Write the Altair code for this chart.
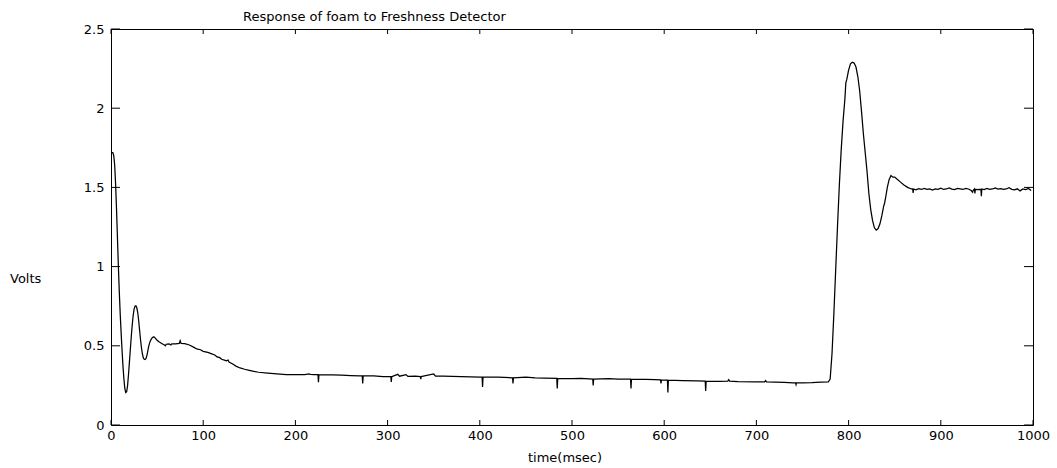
import altair as alt
import pandas as pd

# ---- data ----
# main trace, 0 .. 864 msec
main_t = [
    0, 2, 3, 4, 5, 6, 7, 8, 9, 10, 11, 12, 13, 14, 15, 16, 17, 18, 19, 20,
    21, 22, 23, 24, 25, 26, 27, 28, 29, 30, 31, 32, 33, 34, 35, 36, 37, 38, 39, 40,
    41, 42, 43, 44, 45, 46, 47, 48, 50, 52, 55, 58, 59, 60, 63, 65, 66, 70, 74, 75,
    76, 80, 85, 90, 93, 97, 100, 105, 110, 113, 115, 118, 120, 123, 125, 127, 128, 132, 136, 140,
    145, 150, 155, 160, 170, 180, 190, 200, 210, 215, 216, 220, 224.5, 225, 225.5, 240, 250, 260, 270, 272.5,
    273, 273.5, 285, 295, 303.5, 304, 304.5, 311, 313, 320, 322, 330, 335.5, 336, 336.5, 340, 350, 352, 360, 380,
    400, 402.5, 403, 403.5, 420, 435.5, 436, 436.5, 450, 460, 470, 483.5, 484, 484.5, 500, 510, 522.5, 523, 523.5, 540,
    550, 563.5, 564, 564.5, 580, 590, 596, 596.5, 597, 603.5, 604, 604.5, 620, 635, 644.5, 645, 645.5, 660, 669, 670,
    671, 680, 700, 709, 710, 711, 720, 730, 740, 742.5, 743, 743.5, 750, 760, 770, 778, 780, 782, 784, 786,
    788, 790, 792, 794, 796, 797, 798, 800, 802, 804, 806, 808, 810, 812, 814, 816, 818, 820, 822, 824,
    826, 828, 830, 832, 834, 836, 838, 839, 840, 842, 844, 846, 848, 850, 853, 856, 860, 864,
]
main_v = [
    1.72, 1.72, 1.70, 1.64, 1.52, 1.36, 1.18, 1.00, 0.84, 0.70, 0.58, 0.47, 0.37, 0.29, 0.23, 0.205, 0.21, 0.25, 0.32, 0.40,
    0.48, 0.56, 0.63, 0.69, 0.73, 0.75, 0.752, 0.74, 0.71, 0.66, 0.60, 0.54, 0.49, 0.45, 0.425, 0.415, 0.413, 0.42, 0.44, 0.47,
    0.50, 0.52, 0.535, 0.545, 0.552, 0.556, 0.555, 0.548, 0.535, 0.525, 0.515, 0.505, 0.50, 0.51, 0.512, 0.505, 0.512, 0.512, 0.515, 0.532,
    0.515, 0.513, 0.505, 0.49, 0.48, 0.475, 0.465, 0.458, 0.448, 0.44, 0.43, 0.425, 0.415, 0.41, 0.405, 0.41, 0.398, 0.385, 0.37, 0.36,
    0.352, 0.345, 0.338, 0.333, 0.327, 0.322, 0.318, 0.318, 0.318, 0.322, 0.32, 0.318, 0.318, 0.27, 0.316, 0.317, 0.315, 0.312, 0.31, 0.31,
    0.262, 0.31, 0.31, 0.305, 0.305, 0.272, 0.305, 0.32, 0.308, 0.318, 0.307, 0.308, 0.306, 0.29, 0.306, 0.31, 0.322, 0.308, 0.308, 0.305,
    0.302, 0.302, 0.24, 0.302, 0.302, 0.298, 0.262, 0.298, 0.303, 0.298, 0.296, 0.294, 0.23, 0.294, 0.292, 0.294, 0.29, 0.25, 0.29, 0.292,
    0.29, 0.289, 0.23, 0.289, 0.288, 0.286, 0.285, 0.262, 0.285, 0.284, 0.205, 0.283, 0.28, 0.279, 0.277, 0.215, 0.277, 0.276, 0.277, 0.286,
    0.277, 0.274, 0.272, 0.272, 0.28, 0.272, 0.27, 0.269, 0.266, 0.266, 0.255, 0.266, 0.266, 0.267, 0.27, 0.272, 0.29, 0.45, 0.70, 0.98,
    1.26, 1.52, 1.74, 1.92, 2.06, 2.16, 2.18, 2.24, 2.28, 2.29, 2.285, 2.26, 2.20, 2.11, 1.98, 1.84, 1.72, 1.60, 1.46, 1.36,
    1.29, 1.245, 1.23, 1.24, 1.27, 1.32, 1.38, 1.40, 1.43, 1.50, 1.55, 1.575, 1.565, 1.565, 1.55, 1.535, 1.515, 1.50,
]
# settled, slightly noisy tail, 868 .. 998 msec
settle_t = [
    868, 869.5, 870, 870.5, 873, 876, 879, 882, 885, 888, 891, 894, 897, 900, 903, 906,
    909, 912, 915, 918, 921, 924, 927, 930, 933, 934.5, 935, 936.5, 937, 937.5, 940, 943.5,
    944, 944.5, 947, 950, 953, 956, 959, 962, 965, 968, 971, 974, 977, 980, 983, 986,
    989, 992, 995, 998,
]
settle_v = [
    1.49, 1.49, 1.465, 1.49, 1.485, 1.492, 1.487, 1.494, 1.488, 1.49, 1.483, 1.491, 1.488, 1.495, 1.487, 1.49,
    1.497, 1.489, 1.486, 1.493, 1.49, 1.487, 1.494, 1.49, 1.48, 1.47, 1.48, 1.49, 1.462, 1.488, 1.486, 1.488,
    1.445, 1.49, 1.486, 1.493, 1.488, 1.49, 1.496, 1.489, 1.492, 1.487, 1.49, 1.498, 1.488, 1.484, 1.491, 1.478,
    1.49, 1.486, 1.493, 1.48,
]
x_ticks = [0, 100, 200, 300, 400, 500, 600, 700, 800, 900, 1000]
y_ticks = [0, 0.5, 1, 1.5, 2, 2.5]
title_text = ["Response of foam to Freshness Detector"]
x_title = ["time(msec)"]
y_title = ["Volts"]

W, H = 922, 396
FONT = "DejaVu Sans"
FS = 13

df = pd.DataFrame({"t": main_t + settle_t, "v": main_v + settle_v})
xs = alt.Scale(domain=[0, 1000], nice=False, zero=False)
ys = alt.Scale(domain=[0, 2.5], nice=False, zero=False)

x_axis = alt.Axis(
    values=x_ticks, format="d", ticks=False, domain=False, grid=False,
    labelPadding=4, labelFlush=False, title=None, labelFont=FONT,
    labelFontSize=FS, labelColor="black")
y_axis = alt.Axis(
    values=y_ticks, format="~g", ticks=False, domain=False, grid=False,
    labelPadding=7, labelFlush=False, title=None, labelFont=FONT,
    labelFontSize=FS, labelColor="black")

line = alt.Chart(df).mark_line(color="black", strokeWidth=1.25).encode(
    x=alt.X("t:Q", scale=xs, axis=x_axis),
    y=alt.Y("v:Q", scale=ys, axis=y_axis),
)

xt = pd.DataFrame({"t": x_ticks})
yt = pd.DataFrame({"v": y_ticks})
xb = alt.Chart(xt).mark_rule(color="black", strokeWidth=1).encode(
    x=alt.X("t:Q", scale=xs, axis=x_axis), y=alt.value(H), y2=alt.value(H - 5))
xtop = alt.Chart(xt).mark_rule(color="black", strokeWidth=1).encode(
    x=alt.X("t:Q", scale=xs, axis=x_axis), y=alt.value(0), y2=alt.value(5))
yl = alt.Chart(yt).mark_rule(color="black", strokeWidth=1).encode(
    y=alt.Y("v:Q", scale=ys, axis=y_axis), x=alt.value(0), x2=alt.value(9))
yr = alt.Chart(yt).mark_rule(color="black", strokeWidth=1).encode(
    y=alt.Y("v:Q", scale=ys, axis=y_axis), x=alt.value(W), x2=alt.value(W - 9))

title = alt.Chart(pd.DataFrame({"s": title_text})).mark_text(
    align="left", baseline="alphabetic", font=FONT, fontSize=FS, color="black"
).encode(text="s:N", x=alt.value(132), y=alt.value(-8.5))
xlab = alt.Chart(pd.DataFrame({"s": x_title})).mark_text(
    align="center", baseline="alphabetic", font=FONT, fontSize=FS, color="black"
).encode(text="s:N", x=alt.value(454), y=alt.value(H + 37))
ylab = alt.Chart(pd.DataFrame({"s": y_title})).mark_text(
    align="left", baseline="middle", font=FONT, fontSize=FS, color="black"
).encode(text="s:N", x=alt.value(-101), y=alt.value(250))

chart = alt.layer(line, xb, xtop, yl, yr, title, xlab, ylab).properties(
    width=W, height=H,
    autosize=alt.AutoSizeParams(type="none"),
    padding={"left": 111, "top": 29, "right": 24, "bottom": 43},
    background="white",
).configure_view(stroke="black", strokeWidth=1)

chart.save("out.html", embed_options={"renderer": "svg", "actions": False})
